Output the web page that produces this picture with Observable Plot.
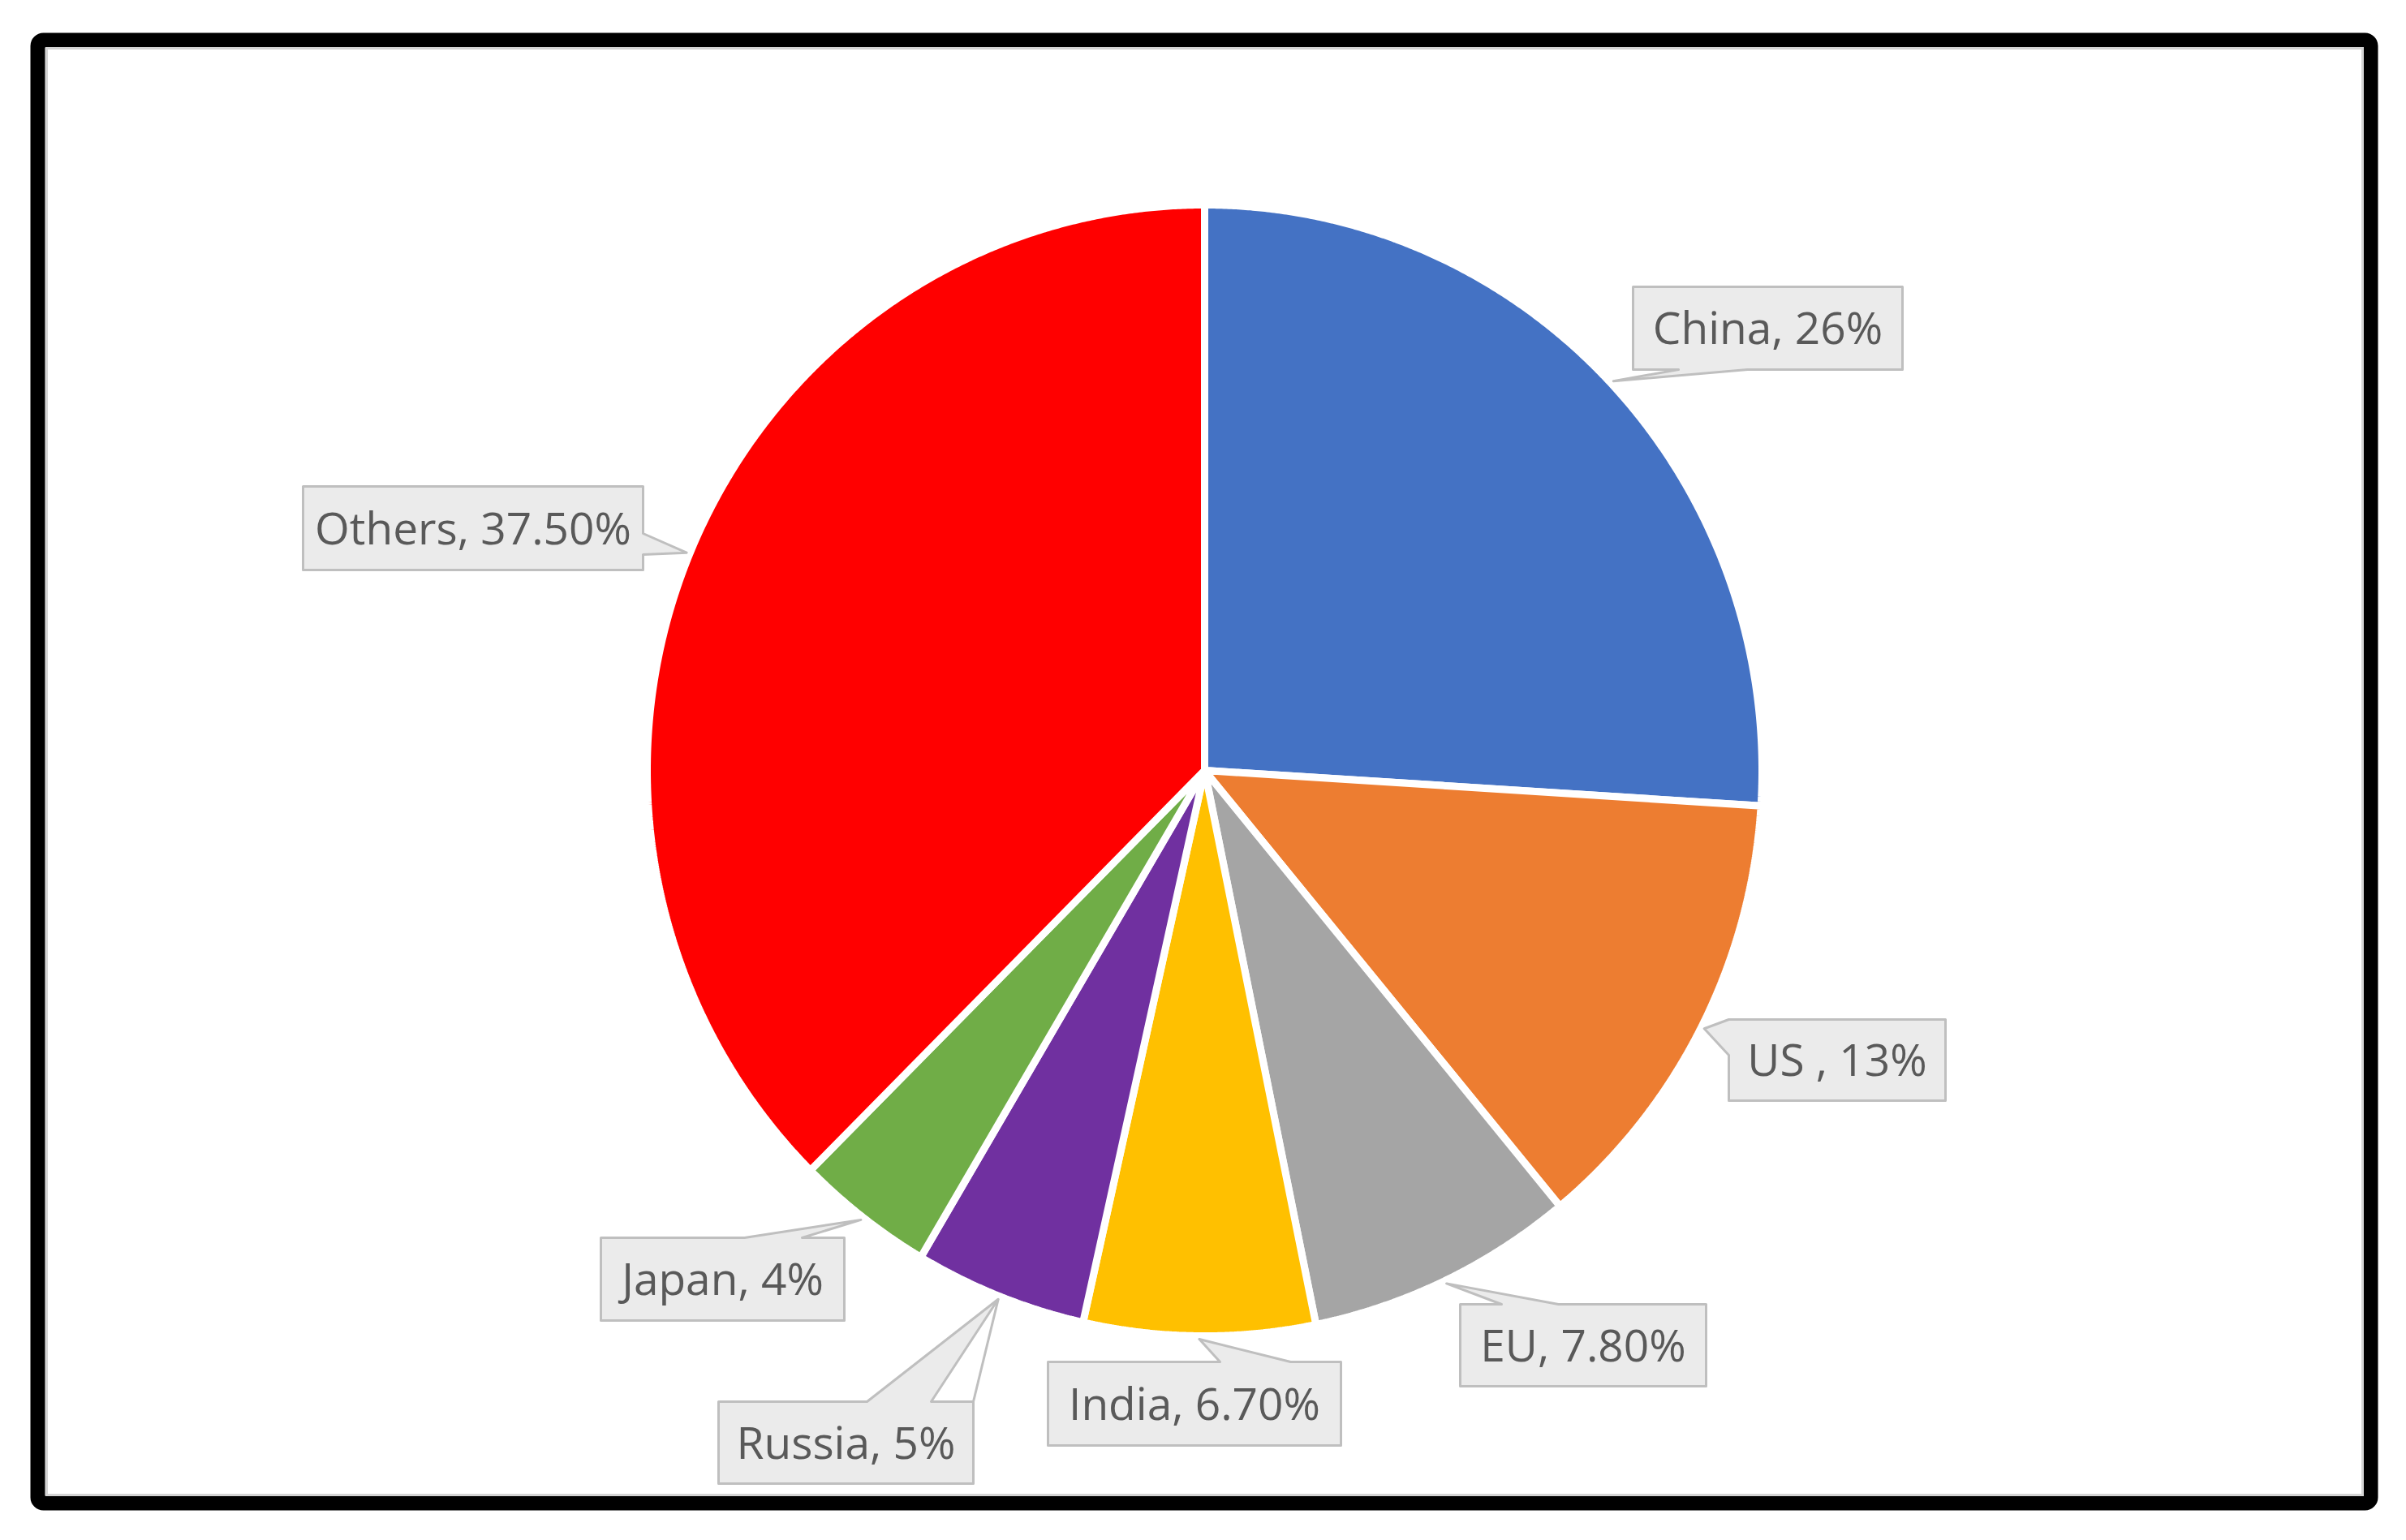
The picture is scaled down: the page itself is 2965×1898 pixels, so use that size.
<!DOCTYPE html>
<html>
<head>
<meta charset="utf-8">
<script src="https://cdn.jsdelivr.net/npm/d3@7"></script>
<script src="https://cdn.jsdelivr.net/npm/@observablehq/plot@0.6"></script>
<style>
  html, body { margin: 0; padding: 0; background: #ffffff; }
  #chart svg { display: block; background: #ffffff; }
</style>
</head>
<body>
<div id="chart"></div>
<script>
// ---- data ----
const names  = ["China", "US", "EU", "India", "Russia", "Japan", "Others"];
const shares = [26, 13, 7.8, 6.7, 5, 4, 37.5];
const labels = ["China, 26%", "US , 13%", "EU, 7.80%", "India, 6.70%", "Russia, 5%", "Japan, 4%", "Others, 37.50%"];
const colors = ["#4472C4", "#ED7D31", "#A5A5A5", "#FFC000", "#7030A0", "#70AD47", "#FF0000"];

// ---- layout ----
const W = 2965, H = 1898;
const CX = 1484, CY = 949, RX = 687, RY = 697;
const labelLayout = {
  China:  {box: [2012, 353, 2344, 455],  side: "bottom", base: [2068, 2153]},
  US:     {box: [2130, 1256, 2397, 1356], side: "left",  base: [1256, 1300]},
  EU:     {box: [1799, 1607, 2102, 1708], side: "top",   base: [1850, 1920]},
  India:  {box: [1291, 1678, 1652, 1781], side: "top",   base: [1503, 1590]},
  Russia: {box: [885, 1727, 1199, 1828],  side: "top",   base: [1068, 1147], extra: true},
  Japan:  {box: [740, 1525, 1040, 1627],  side: "top",   base: [917, 988]},
  Others: {box: [373, 599, 792, 702],     side: "right", base: [657, 683]}
};

const table = names.map((n, i) => ({name: n, share: shares[i], label: labels[i]}));
const arcs = d3.pie().sort(null).value(d => d.share)(table);

// slice outlines built from the pie angles
const slicePts = [];
arcs.forEach(a => {
  slicePts.push({name: a.data.name, x: CX, y: CY});
  const n = Math.max(2, Math.ceil((a.endAngle - a.startAngle) / (Math.PI / 720)));
  for (let k = 0; k <= n; k++) {
    const t = a.startAngle + (a.endAngle - a.startAngle) * k / n;
    slicePts.push({name: a.data.name, x: CX + RX * Math.sin(t), y: CY - RY * Math.cos(t)});
  }
});

// callouts
const calloutPts = [];
const extraLinks = [];
const textData = [];
arcs.forEach(a => {
  const L = labelLayout[a.data.name];
  const mid = (a.startAngle + a.endAngle) / 2;
  const tip = {x: CX + (RX + 4) * Math.sin(mid), y: CY - (RY + 4) * Math.cos(mid)};
  const [x1, y1, x2, y2] = L.box;
  const [p, q] = L.base;
  let pts = [];
  pts.push([x1, y1]);
  if (L.side === "top") pts.push([p, y1], [tip.x, tip.y], [q, y1]);
  pts.push([x2, y1]);
  if (L.side === "right") pts.push([x2, p], [tip.x, tip.y], [x2, q]);
  pts.push([x2, y2]);
  if (L.side === "bottom") pts.push([q, y2], [tip.x, tip.y], [p, y2]);
  pts.push([x1, y2]);
  if (L.side === "left") pts.push([x1, q], [tip.x, tip.y], [x1, p]);
  pts.forEach(([x, y]) => calloutPts.push({name: a.data.name, x, y}));
  if (L.extra) extraLinks.push({x1: tip.x, y1: tip.y, x2: x2, y2: y1});
  textData.push({label: a.data.label, x: (x1 + x2) / 2, y: (y1 + y2) / 2});
});

const chart = Plot.plot({
  width: W,
  height: H,
  margin: 0,
  style: {fontFamily: "'Open Sans', sans-serif", background: "#ffffff"},
  x: {domain: [0, W], range: [0, W], axis: null},
  y: {domain: [0, H], range: [0, H], axis: null},
  color: {domain: names, range: colors},
  marks: [
    Plot.frame({stroke: "#000000", strokeWidth: 18, rx: 7, insetLeft: 46, insetTop: 49, insetRight: W - 2921, insetBottom: H - 1852}),
    Plot.frame({stroke: "#D4D4D4", strokeWidth: 3, insetLeft: 57, insetTop: 59, insetRight: W - 2911, insetBottom: H - 1842}),
    Plot.line(slicePts, {x: "x", y: "y", z: "name", fill: "name", stroke: "#ffffff", strokeWidth: 9, strokeLinejoin: "miter", curve: "linear-closed"}),
    Plot.line(calloutPts, {x: "x", y: "y", z: "name", fill: "#EBEBEB", stroke: "#BFBFBF", strokeWidth: 3, curve: "linear-closed"}),
    Plot.link(extraLinks, {x1: "x1", y1: "y1", x2: "x2", y2: "y2", stroke: "#BFBFBF", strokeWidth: 3}),
    Plot.text(textData, {x: "x", y: "y", text: "label", fontSize: 55, fill: "#595959", textAnchor: "middle", dy: 2})
  ]
});
document.getElementById("chart").appendChild(chart);
</script>
</body>
</html>
